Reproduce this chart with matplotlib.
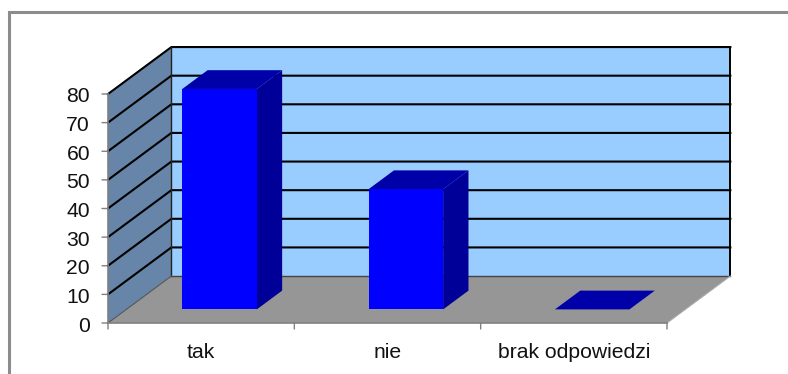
"""Pseudo-3D column chart: tak / nie / brak odpowiedzi."""
import matplotlib
matplotlib.use("Agg")
import matplotlib.pyplot as plt
from matplotlib.patches import Polygon, Rectangle

plt.rcParams["font.family"] = ["Liberation Sans", "DejaVu Sans"]

categories = ["tak", "nie", "brak odpowiedzi"]
values = [77, 42, 0]
y_ticks = [0, 10, 20, 30, 40, 50, 60, 70, 80]

WIDTH, HEIGHT = 788, 374
FONT = 15.2

# shear of the depth axis, in data units
DEPTH_X = 0.34
DEPTH_Y = 16.4
BAR_WIDTH = 0.40
BAR_DEPTH_START = 0.29
BAR_DEPTH_END = 0.69


def proj(x, y, d=0.0):
    return (x + DEPTH_X * d, y + DEPTH_Y * d)


fig = plt.figure(figsize=(WIDTH / 100, HEIGHT / 100), dpi=100)
ax = fig.add_axes([108 / WIDTH, 1 - 323 / HEIGHT, 559 / WIDTH, 229 / HEIGHT])
ax.set_xlim(0, len(categories))
ax.set_ylim(0, y_ticks[-1])
ax.axis("off")


def face(points, color, z, edge="none"):
    ax.add_patch(Polygon([proj(*p) for p in points], closed=True, facecolor=color,
                         edgecolor=edge, linewidth=0.8, zorder=z, clip_on=False))


n = len(categories)
top = y_ticks[-1]
# walls and floor
face([(0, 0, 1), (n, 0, 1), (n, top, 1), (0, top, 1)], "#99CCFF", 1)
face([(0, 0, 0), (0, 0, 1), (0, top, 1), (0, top, 0)], "#6685A8", 1)
face([(0, 0, 0), (n, 0, 0), (n, 0, 1), (0, 0, 1)], "#969696", 1)

# gridlines run along the side wall and the back wall
for v in y_ticks[1:]:
    xs, ys = zip(proj(0, v, 0), proj(0, v, 1), proj(n, v, 1))
    ax.plot(xs, ys, color="black", lw=1.5, zorder=2, clip_on=False)
xs, ys = zip(proj(0, 0, 1), proj(0, top, 1))
ax.plot(xs, ys, color="#222222", lw=1.0, zorder=2, clip_on=False)
xs, ys = zip(proj(n, 0, 1), proj(n, top, 1))
ax.plot(xs, ys, color="black", lw=1.4, zorder=2, clip_on=False)
xs, ys = zip(proj(0, 0, 1), proj(n, 0, 1))
ax.plot(xs, ys, color="#444444", lw=1.0, zorder=2, clip_on=False)
xs, ys = zip(proj(0, 0, 0), proj(0, 0, 1))
ax.plot(xs, ys, color="#555555", lw=0.8, zorder=2, clip_on=False)
xs, ys = zip(proj(n, 0, 0), proj(n, 0, 1))
ax.plot(xs, ys, color="#aaaaaa", lw=0.8, zorder=2, clip_on=False)

# columns
for i, val in enumerate(values):
    x0 = i + 0.5 - BAR_WIDTH / 2
    x1 = x0 + BAR_WIDTH
    d0, d1 = BAR_DEPTH_START, BAR_DEPTH_END
    face([(x1, 0, d0), (x1, 0, d1), (x1, val, d1), (x1, val, d0)], "#000099", 3)
    face([(x0, val, d0), (x1, val, d0), (x1, val, d1), (x0, val, d1)], "#0000A8", 3)
    face([(x0, 0, d0), (x1, 0, d0), (x1, val, d0), (x0, val, d0)], "#0000FF", 4)

# front axes, ticks and labels
axis_color = "#808080"
ax.plot([0, 0], [0, top], color=axis_color, lw=1.2, zorder=5, clip_on=False)
ax.plot([0, n], [0, 0], color=axis_color, lw=1.2, zorder=5, clip_on=False)
for v in y_ticks:
    ax.annotate("", (0, v), xytext=(-6, 0), textcoords="offset pixels",
                arrowprops=dict(arrowstyle="-", color=axis_color, lw=1.0, shrinkA=0, shrinkB=0))
    ax.annotate(str(v), (0, v), xytext=(-18, -3), textcoords="offset pixels",
                ha="right", va="center", fontsize=FONT, color="#111111")
for i in range(n + 1):
    ax.annotate("", (i, 0), xytext=(0, -6), textcoords="offset pixels",
                arrowprops=dict(arrowstyle="-", color=axis_color, lw=1.0, shrinkA=0, shrinkB=0))
for i, name in enumerate(categories):
    ax.annotate(name, (i + 0.5, 0), xytext=(0, -29), textcoords="offset pixels",
                ha="center", va="center", fontsize=FONT, color="#111111")

# outer frame, cut off by the right and bottom of the picture
fig.add_artist(Rectangle((9 / WIDTH, -0.05), 1.0, 0.05 + 1 - 12 / HEIGHT, transform=fig.transFigure,
                         facecolor="none", edgecolor="#8c8c8c", linewidth=2.2))

fig.savefig("out.png", dpi=100)
